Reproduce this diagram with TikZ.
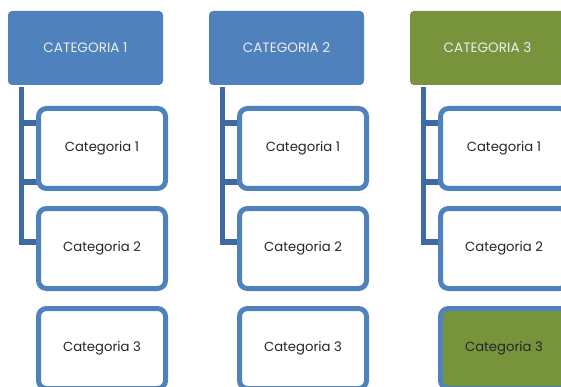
\documentclass[tikz,border=0pt]{standalone}
\usepackage{fontspec}
\setmainfont{Poppins}
\begin{document}
\begin{tikzpicture}[x=1pt,y=-1pt,
  hdr/.style={rounded corners=4pt, minimum width=155pt, minimum height=74pt, inner sep=0pt,
    text=white!93!black, font=\fontsize{13.6}{15}\selectfont},
  hblue/.style={hdr, fill=hdrblue},
  hgreen/.style={hdr, fill=hdrgreen},
  child/.style={draw=boxblue, line width=5pt, rounded corners=8pt, fill=white,
    minimum width=127pt, minimum height=80pt, inner sep=0pt,
    text=txtgray, font=\fontsize{13.2}{15}\selectfont},
  bar/.style={draw=barblue, line width=5.5pt}
]
\definecolor{hdrblue}{HTML}{4F81BD}
\definecolor{hdrgreen}{HTML}{77933C}
\definecolor{boxblue}{HTML}{4F81BD}
\definecolor{barblue}{HTML}{3E6B9F}
\definecolor{txtgray}{HTML}{262626}
\useasboundingbox (0,0) rectangle (561,387);
\clip (0,0) rectangle (561,387);
\foreach \i/\dx/\hs in {1/0/hblue, 2/201/hblue, 3/402/hgreen} {
  \coordinate (t\i) at (21.5+\dx,87);
  \coordinate (k\i a) at (21.5+\dx,123);
  \coordinate (k\i b) at (21.5+\dx,182);
  \coordinate (k\i c) at (21.5+\dx,242);
  \coordinate (e\i a) at (37+\dx,123);
  \coordinate (e\i b) at (37+\dx,182);
  \coordinate (e\i c) at (37+\dx,242);
  \draw[bar] (t\i) -- (k\i c) -- (e\i c);
  \draw[bar] (k\i a) -- (e\i a);
  \draw[bar] (k\i b) -- (e\i b);
  \node[\hs] (h\i) at (85.5+\dx,48) {CATEGORIA \i};
  \node[child] (c\i1) at (102+\dx,148.5) {Categoria 1};
  \node[child] (c\i2) at (102+\dx,248.5) {Categoria 2};
}
\node[child] (c13) at (102,348.5) {Categoria 3};
\node[child] (c23) at (303,348.5) {Categoria 3};
\node[child, fill=hdrgreen] (c33) at (504,348.5) {Categoria 3};
\end{tikzpicture}
\end{document}
